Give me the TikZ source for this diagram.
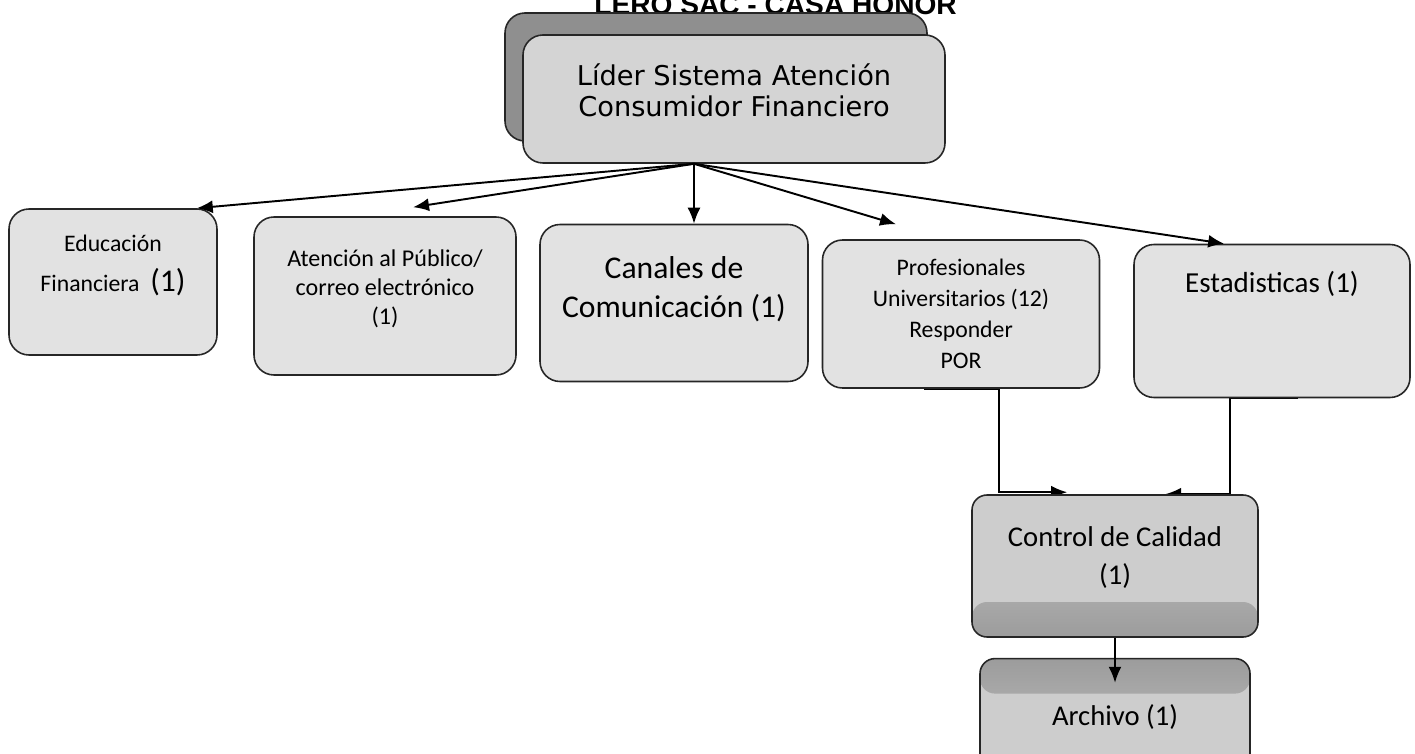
\documentclass[tikz,border=0pt]{standalone}
\usepackage{fontspec}
\setmainfont{Carlito}
\newfontfamily\liderfont{DejaVu Sans}
\newfontfamily\titlefont{Liberation Sans}
\usepackage{tikz}
\usetikzlibrary{arrows.meta,positioning,shadows,backgrounds}
\definecolor{boxgray}{HTML}{E2E2E2}
\definecolor{lidergray}{HTML}{D4D4D4}
\definecolor{shadowgray}{HTML}{8F8F8F}
\definecolor{ctrlgray}{HTML}{CDCDCD}
\definecolor{bandgray}{HTML}{9C9C9C}
\definecolor{linegray}{HTML}{262626}

\begin{document}
\begin{tikzpicture}[
  area/.style={draw=linegray, line width=0.9pt, rounded corners=0.4cm, fill=boxgray,
               align=center, inner sep=0pt},
  lead/.style={area, fill=lidergray, font=\liderfont\fontsize{15.5}{17.6}\selectfont,
               general shadow={shadow xshift=-0.36cm, shadow yshift=0.44cm,
                               fill=shadowgray, draw=linegray, line width=0.9pt}},
  dark/.style={area, fill=ctrlgray, rounded corners=0.3cm,
               font=\fontsize{16.3}{21.6}\selectfont},
  arrow/.style={-{Latex[length=3.2mm,width=2.6mm]}, line width=1.1pt, draw=black}
]
  \path[use as bounding box] (0,0) rectangle (28.3,-15.08);

  \node[anchor=base east, font=\titlefont\bfseries\fontsize{16}{19}\selectfont] (title)
    at (19.26,-0.3) {LERO SAC - CASA HONOR};

  \node[lead, minimum width=8.44cm, minimum height=2.56cm] (lider) at (14.68,-1.98)
    {Líder Sistema Atención\\Consumidor Financiero\\[-7.9pt]};

  \node[area, minimum width=4.16cm, minimum height=2.92cm,
        font=\fontsize{13.5}{22.8}\selectfont] (edu) at (2.26,-5.64)
    {Educación\\Financiera\ \ {\fontsize{18}{22.8}\selectfont(1)}\\[-1.2pt]};
  \node[area, minimum width=5.24cm, minimum height=3.16cm,
        font=\fontsize{13.7}{16.5}\selectfont] (aten) at (7.70,-5.92)
    {Atención al Público/\\correo electrónico\\(1)\\[-6.3pt]};
  \node[area, minimum width=5.36cm, minimum height=3.14cm,
        font=\fontsize{18}{22}\selectfont] (canales) at (13.48,-6.06)
    {Canales de\\Comunicación (1)\\[-3.8pt]};
  \node[area, minimum width=5.54cm, minimum height=2.96cm,
        font=\fontsize{13.5}{17.6}\selectfont] (prof) at (19.22,-6.28)
    {Profesionales\\Universitarios (12)\\Responder\\POR};
  \node[area, minimum width=5.52cm, minimum height=3.06cm,
        font=\fontsize{16.5}{20}\selectfont] (estad) at (25.44,-6.42)
    {Estadisticas (1)\\[24.4pt]};

  \node[dark, minimum width=5.72cm, minimum height=2.84cm,
        path picture={\shade[top color=ctrlgray, bottom color=bandgray]
          ([yshift=0.7cm]path picture bounding box.south west)
          rectangle (path picture bounding box.south east);}] (ctrl) at (22.30,-11.32)
    {Control de Calidad\\(1)\\[-10.2pt]};
  \node[dark, minimum width=5.40cm, minimum height=2.80cm, below=0.4cm of ctrl,
        path picture={\shade[top color=bandgray, bottom color=ctrlgray]
          (path picture bounding box.north west)
          rectangle ([yshift=-0.7cm]path picture bounding box.north east);}] (archivo)
    {Archivo (1)\\[-5.7pt]};

  \coordinate (hub) at ([xshift=-0.8cm]lider.south);
  \draw[arrow] (hub) -- ([xshift=-0.42cm]edu.north east);
  \draw[arrow] (hub) -- ([shift={(0.56,0.18)}]aten.north);
  \draw[arrow] (hub) -- (hub |- canales.north);
  \draw[arrow] (hub) -- ([shift={(-1.3,0.3)}]prof.north);
  \draw[arrow] (hub) -- ([xshift=1.82cm]estad.north west);

  \begin{scope}[on background layer]
    \fill[white] (0,0) rectangle (28.3,-15.08);
    \draw[arrow] ([xshift=-0.74cm]prof.south) -- ([xshift=0.76cm]prof.south)
      |- ([shift={(1.92,0.04)}]ctrl.north west);
    \draw[arrow] ([xshift=0.52cm]estad.south) -- ([xshift=-0.84cm]estad.south)
      |- ([xshift=1.0cm]ctrl.north);
  \end{scope}
  \draw[arrow] (ctrl.south) -- ([yshift=-0.5cm]archivo.north);
\end{tikzpicture}
\end{document}
